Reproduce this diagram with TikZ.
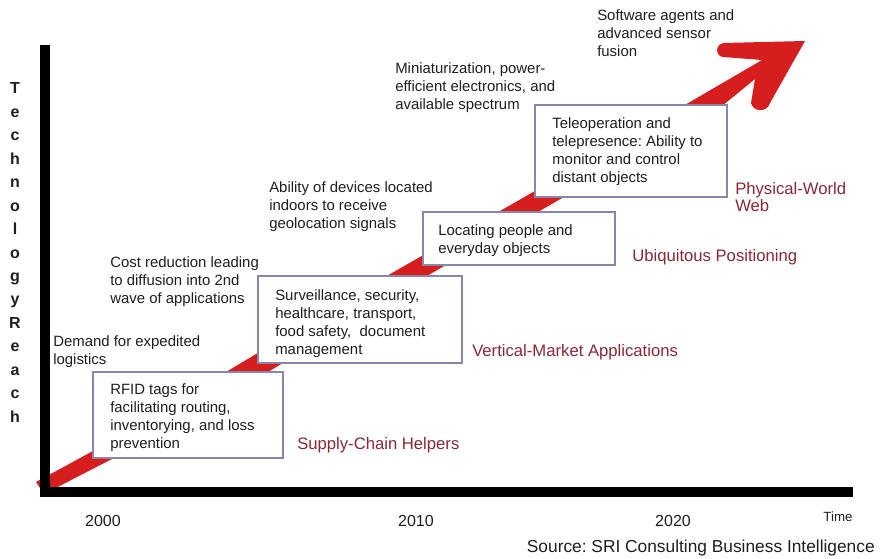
\documentclass[tikz,border=0pt]{standalone}
\usepackage{fontspec}
\setmainfont{Liberation Sans}
\frenchspacing
\definecolor{textcol}{RGB}{30,30,30}
\definecolor{labelred}{RGB}{135,40,55}
\definecolor{boxedge}{RGB}{135,135,172}
\definecolor{arrowred}{RGB}{215,30,30}
\begin{document}
\begin{tikzpicture}[x=0.75pt,y=-0.75pt,
  txt/.style={text=textcol, font=\fontsize{11.2}{13.5}\selectfont, align=left, inner sep=0pt, anchor=north west},
  phase/.style={text=labelred, font=\fontsize{12.5}{12.75}\selectfont, align=left, inner sep=0pt},
  stage/.style={draw=boxedge, fill=white, line width=1pt, inner sep=0pt},
  axisline/.style={line width=7.5pt, black, line join=miter},
  year/.style={text=textcol, font=\fontsize{12}{14}\selectfont, inner sep=0pt, anchor=base}]
\useasboundingbox (0,0) rectangle (882,559);

% rising red arrow, drawn first so the boxes cover it
\fill[arrowred] (36,482) -- (93,451) -- (231,369) -- (392,273) -- (690,102) -- (762,60)
  -- (723,57) .. controls (715,56) and (715,44) .. (724,43)
  -- (805,41)
  -- (770,103) .. controls (767,113) and (753,112) .. (751,103)
  -- (755,79) -- (722,106) -- (432,273) -- (268,372) -- (112,459) -- (44,494) -- cycle;

% axes
\coordinate (ytop) at (45,45);
\coordinate (origin) at (45,492);
\coordinate (xend) at (853,492);
\draw[axisline] (ytop) -- (origin) -- (xend);

% stage boxes
\node[stage, minimum width=142.5pt, minimum height=64.5pt] (rfid) at (188,415) {};
\node[stage, minimum width=153pt, minimum height=65.25pt] (surv) at (360,319.5) {};
\node[stage, minimum width=144pt, minimum height=39.75pt] (locate) at (519,238.5) {};
\node[stage, minimum width=144pt, minimum height=69pt] (tele) at (631,151) {};

\node[txt] (rfidtext) at (110,383.5) {RFID tags for\\facilitating routing,\\inventorying, and loss\\prevention};
\node[txt] (survtext) at (275,289.5) {Surveillance, security,\\healthcare, transport,\\food safety,~ document\\management};
\node[txt] (locatetext) at (438,224.5) {Locating people and\\everyday objects};
\node[txt] (teletext) at (552,117.5) {Teleoperation and\\telepresence: Ability to\\monitor and control\\distant objects};

% drivers
\node[txt] (demand) at (53,335.5) {Demand for expedited\\logistics};
\node[txt] (cost) at (110,256.5) {Cost reduction leading\\to diffusion into 2nd\\wave of applications};
\node[txt] (indoor) at (269,181.5) {Ability of devices located\\indoors to receive\\geolocation signals};
\node[txt] (mini) at (395,62.5) {Miniaturization, power-\\efficient electronics, and\\available spectrum};
\node[txt] (agents) at (597,9.5) {Software agents and\\advanced sensor\\fusion};

% phase labels
\node[phase, anchor=base west] (supply) at (297,450) {Supply-Chain Helpers};
\node[phase, anchor=base west] (vertical) at (472,357) {Vertical-Market Applications};
\node[phase, anchor=base west] (ubiq) at (632,262) {Ubiquitous Positioning};
\node[phase, anchor=north west] (physical) at (735,182) {Physical-World\\Web};

% axis labels
\node[text=textcol, font=\bfseries\fontsize{12}{17.6}\selectfont, align=center, inner sep=0pt] (yaxis) at (15,252.5)
  {T\\e\\c\\h\\n\\o\\l\\o\\g\\y\\R\\e\\a\\c\\h};
\node[year] (y2000) at (103,526) {2000};
\node[year] (y2010) at (416,526) {2010};
\node[year] (y2020) at (673,526) {2020};
\node[year, font=\fontsize{10}{12}\selectfont] (time) at (838,521) {Time};
\node[text=textcol, font=\fontsize{13}{16}\selectfont, inner sep=0pt, anchor=base east] (source) at (875,552)
  {Source: SRI Consulting Business Intelligence};
\end{tikzpicture}
\end{document}
